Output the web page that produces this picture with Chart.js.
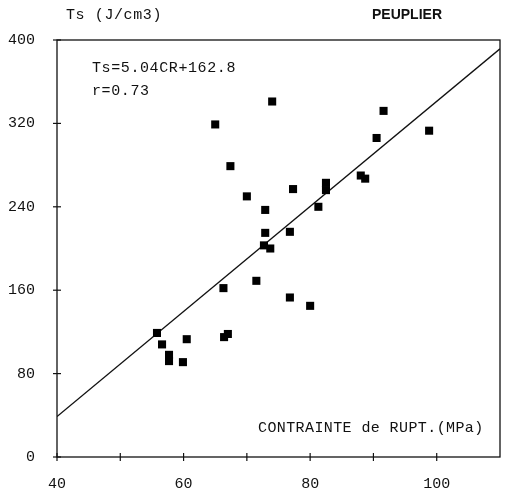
<!DOCTYPE html>
<html>
<head>
<meta charset="utf-8">
<script src="https://cdn.jsdelivr.net/npm/chart.js@4/dist/chart.umd.min.js"></script>
<style>
  html, body { margin: 0; padding: 0; background: #fff; }
  #wrap { width: 510px; height: 491px; position: relative; }
</style>
</head>
<body>
<div id="wrap"><canvas id="chart" width="510" height="491"></canvas></div>
<script>
// contrainte de rupture (MPa)
const crValues = [65.0, 74.0, 91.6, 98.8, 90.5,
    67.4, 70.0, 72.9, 77.3, 82.5, 82.5, 81.3, 88.0, 88.7,
    72.9, 76.8, 72.7, 73.7, 71.5, 66.3, 76.8, 80.0,
    55.8, 56.6, 60.5, 57.7, 57.7, 59.9, 66.4, 67.0];
// Ts (J/cm3)
const tsValues = [319, 341, 332, 313, 306,
    279, 250, 237, 257, 263, 256, 240, 270, 267,
    215, 216, 203, 200, 169, 162, 153, 145,
    119, 108, 113, 98, 92, 91, 115, 118];
// droite de régression (extrémités)
const fitX = [40, 110];
const fitY = [38.8, 391.6];
const yTicks = [0, 80, 160, 240, 320, 400];

const mono = '"Liberation Mono", "DejaVu Sans Mono", monospace';

// textes + petits traits de graduation qui croisent les axes
const decor = {
    id: 'decor',
    afterDraw(chart) {
        const ctx = chart.ctx;
        const a = chart.chartArea;
        const sx = chart.scales.x, sy = chart.scales.y;
        ctx.save();
        ctx.strokeStyle = '#111';
        ctx.lineWidth = 1.3;
        ctx.strokeRect(a.left, a.top, a.right - a.left, a.bottom - a.top);
        ctx.lineWidth = 1.2;
        for (let v = 40; v <= 100; v += 10) {
            const px = sx.getPixelForValue(v);
            ctx.beginPath();
            ctx.moveTo(px, a.bottom - 4);
            ctx.lineTo(px, a.bottom + 4);
            ctx.stroke();
        }
        yTicks.forEach(v => {
            const py = sy.getPixelForValue(v);
            ctx.beginPath();
            ctx.moveTo(a.left - 4, py);
            ctx.lineTo(a.left + 4, py);
            ctx.stroke();
        });

        ctx.fillStyle = '#111';
        ctx.textBaseline = 'middle';
        ctx.font = '15px ' + mono;
        ctx.letterSpacing = '0.6px';
        ctx.fillText('Ts (J/cm3)', 66, 15);
        ctx.fillText('Ts=5.04CR+162.8', 92, 68);
        ctx.fillText('r=0.73', 92, 91);
        ctx.letterSpacing = '0.4px';
        ctx.fillText('CONTRAINTE de RUPT.(MPa)', 258, 428);
        ctx.letterSpacing = '0px';
        ctx.font = 'bold 14px "Liberation Sans", Arial, sans-serif';
        ctx.fillText('PEUPLIER', 372, 15);
        ctx.restore();
    }
};

const ctx = document.getElementById('chart').getContext('2d');
new Chart(ctx, {
    type: 'scatter',
    data: {
        datasets: [{
            label: 'Ts',
            data: crValues.map((x, i) => ({ x: x, y: tsValues[i] })),
            pointStyle: 'rect',
            pointRadius: 5.7,
            pointBorderWidth: 0,
            backgroundColor: '#000',
            borderColor: '#000'
        }, {
            label: 'régression',
            type: 'line',
            data: fitX.map((x, i) => ({ x: x, y: fitY[i] })),
            borderColor: '#111',
            borderWidth: 1.4,
            pointRadius: 0,
            fill: false
        }]
    },
    options: {
        responsive: false,
        animation: false,
        layout: { padding: { top: 40, right: 5, left: 0, bottom: 0 } },
        plugins: {
            legend: { display: false },
            tooltip: { enabled: false }
        },
        scales: {
            x: {
                type: 'linear',
                min: 40,
                max: 110,
                afterFit: s => { s.height = 34; },
                border: { display: false },
                grid: { display: false },
                ticks: {
                    stepSize: 10,
                    padding: 10,
                    color: '#111',
                    font: { family: mono, size: 15 },
                    maxRotation: 0,
                    callback: v => (v % 20 === 0 && v <= 100) ? v : ''
                }
            },
            y: {
                min: 0,
                max: 400,
                afterFit: s => { s.width = 57; },
                border: { display: false },
                grid: { display: false },
                ticks: {
                    stepSize: 80,
                    padding: 14,
                    color: '#111',
                    font: { family: mono, size: 15 }
                }
            }
        }
    },
    plugins: [decor]
});
</script>
</body>
</html>
